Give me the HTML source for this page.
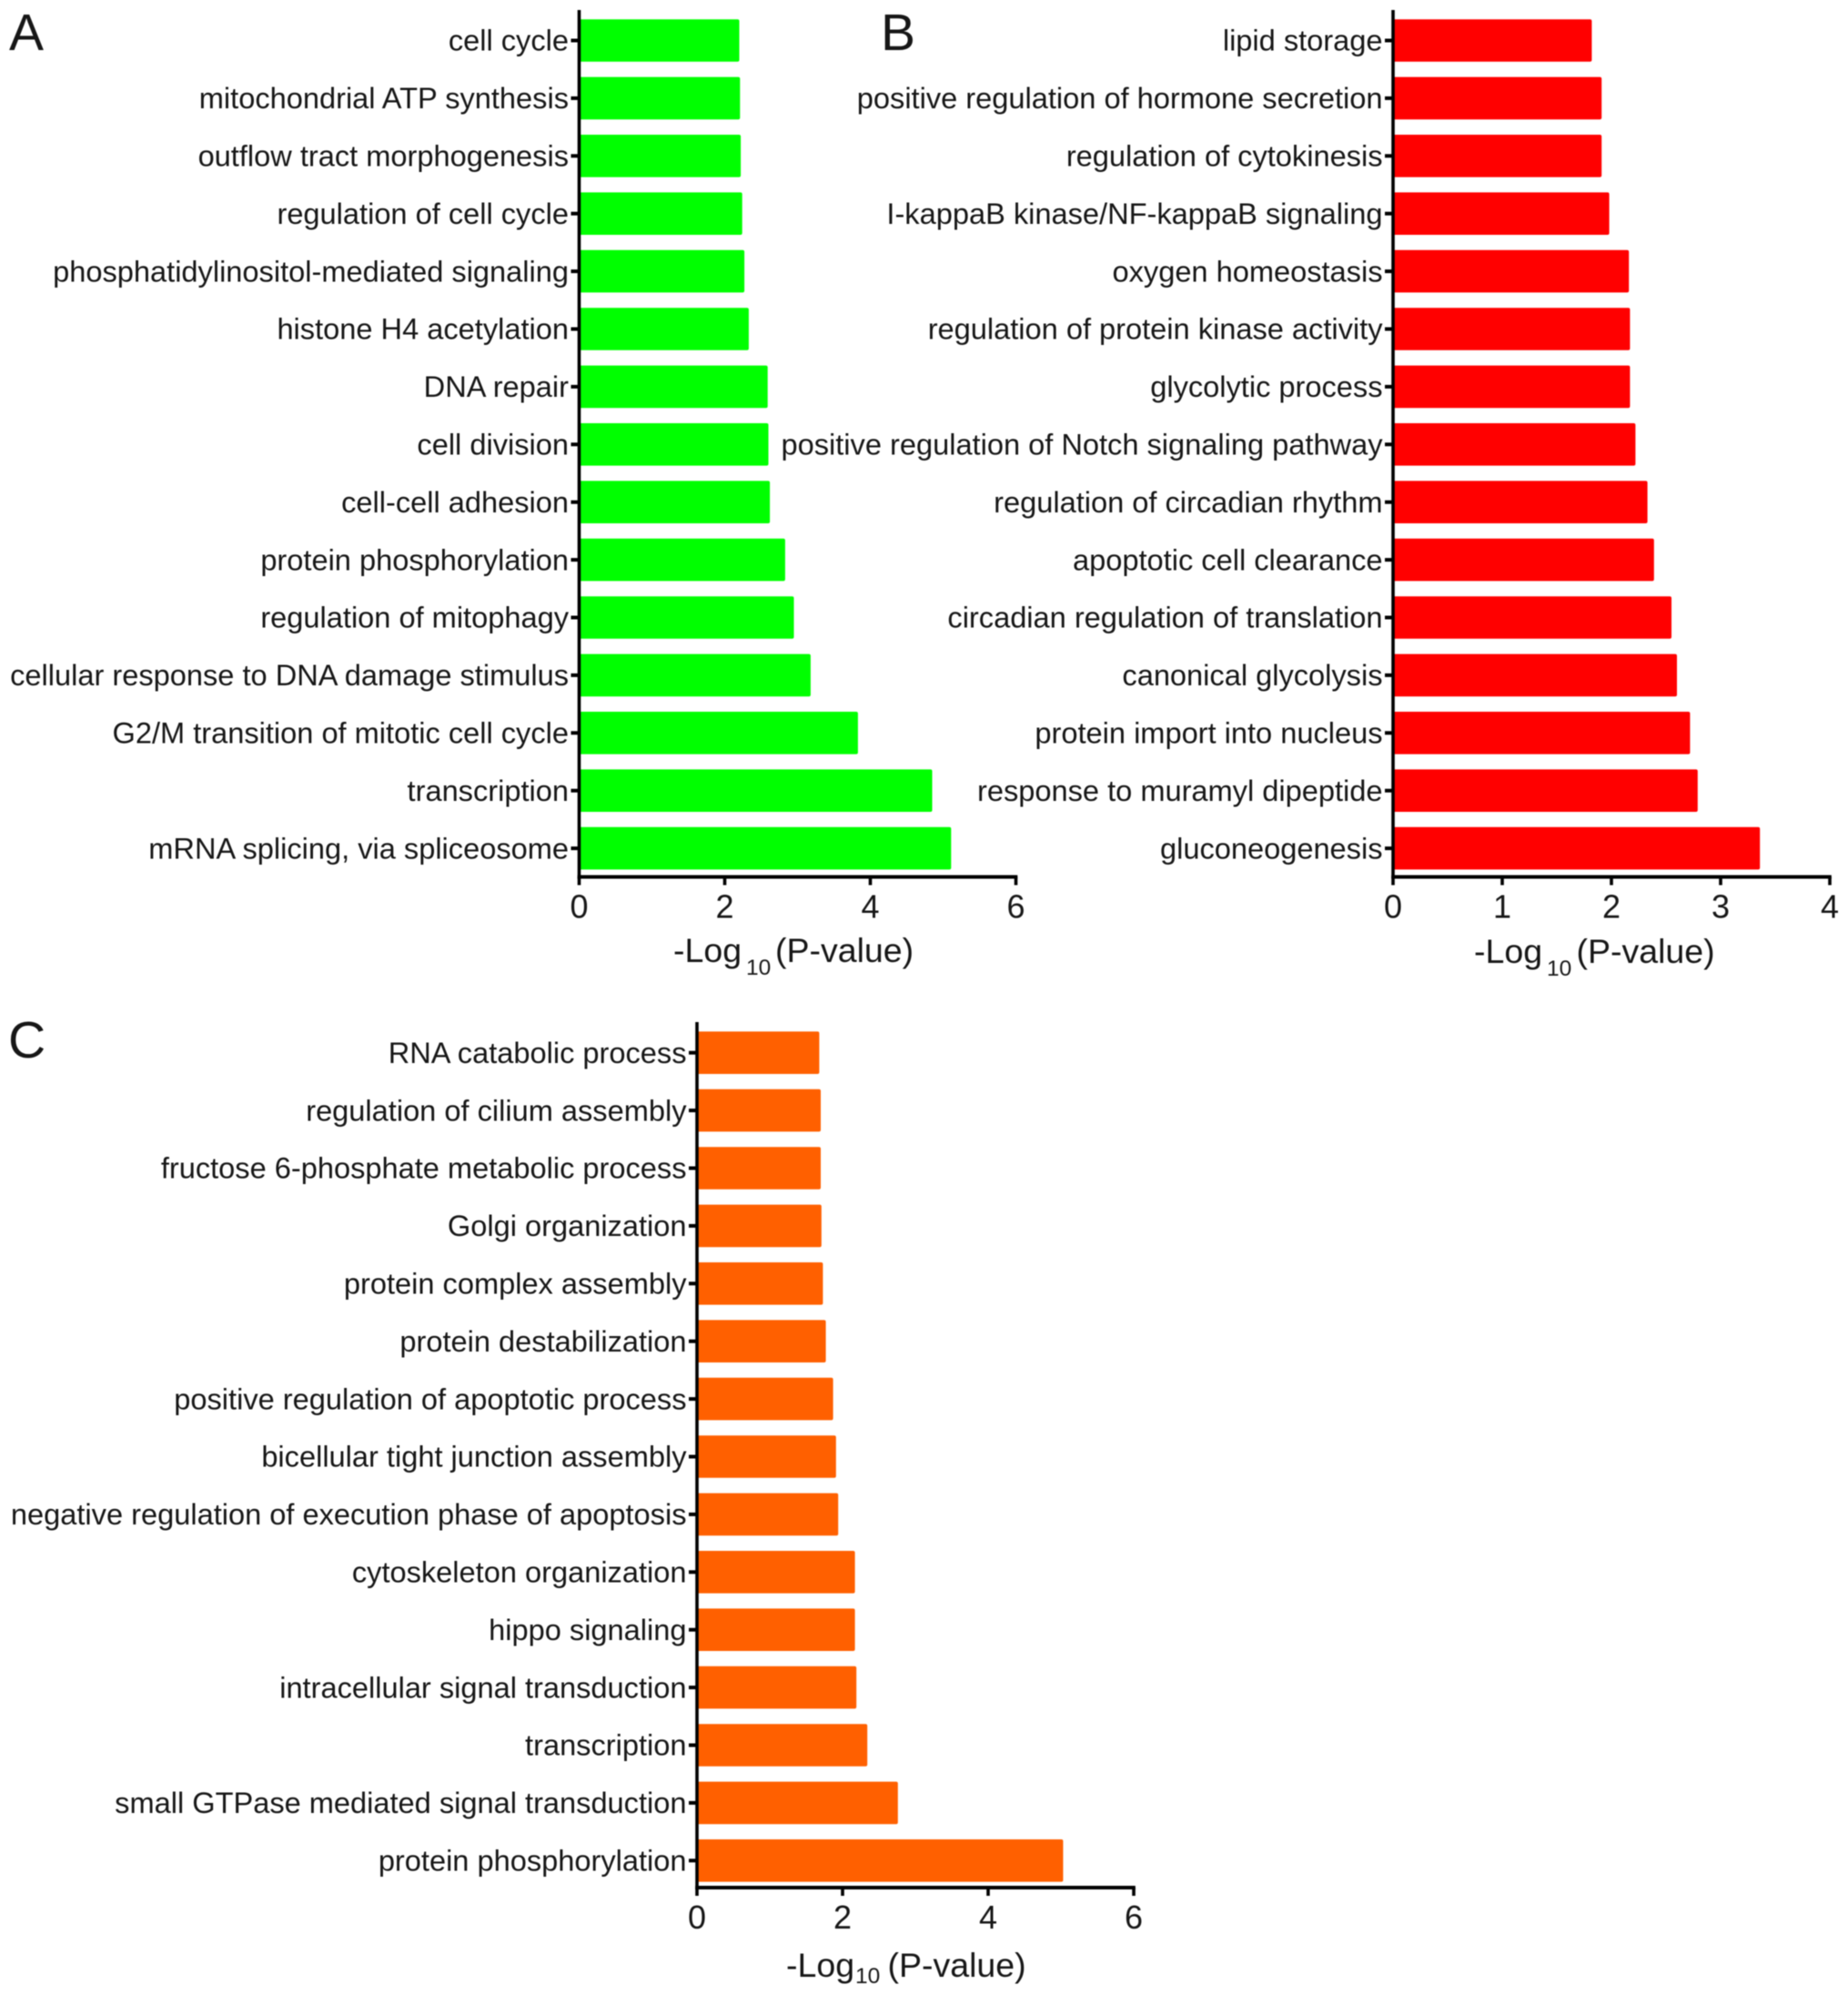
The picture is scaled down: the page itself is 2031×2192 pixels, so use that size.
<!DOCTYPE html>
<html lang="en">
<head>
<meta charset="utf-8">
<title>GO enrichment bar charts</title>
<style>
html,body{margin:0;padding:0;background:#fff;}
body{width:2031px;height:2192px;overflow:hidden;}
svg{display:block;filter:blur(0.55px);}
text{font-family:"Liberation Sans",sans-serif;fill:#161616;}
</style>
</head>
<body>
<svg id="figure" width="2031" height="2192" viewBox="0 0 2031 2192" xmlns="http://www.w3.org/2000/svg">
<rect x="0" y="0" width="2031" height="2192" fill="#ffffff"/>
<text x="10" y="55" font-size="57">A</text>
<text x="968" y="55" font-size="57">B</text>
<text x="9" y="1162" font-size="57">C</text>
</svg>
<script>
const panelACategories = ["cell cycle","mitochondrial ATP synthesis","outflow tract morphogenesis","regulation of cell cycle","phosphatidylinositol-mediated signaling","histone H4 acetylation","DNA repair","cell division","cell-cell adhesion","protein phosphorylation","regulation of mitophagy","cellular response to DNA damage stimulus","G2/M transition of mitotic cell cycle","transcription","mRNA splicing, via spliceosome"];
const panelAValues = [2.20,2.21,2.22,2.24,2.27,2.33,2.59,2.60,2.62,2.83,2.95,3.18,3.83,4.85,5.11];
const panelATicks = [0,2,4,6];

const panelBCategories = ["lipid storage","positive regulation of hormone secretion","regulation of cytokinesis","I-kappaB kinase/NF-kappaB signaling","oxygen homeostasis","regulation of protein kinase activity","glycolytic process","positive regulation of Notch signaling pathway","regulation of circadian rhythm","apoptotic cell clearance","circadian regulation of translation","canonical glycolysis","protein import into nucleus","response to muramyl dipeptide","gluconeogenesis"];
const panelBValues = [1.82,1.91,1.91,1.98,2.16,2.17,2.17,2.22,2.33,2.39,2.55,2.60,2.72,2.79,3.36];
const panelBTicks = [0,1,2,3,4];

const panelCCategories = ["RNA catabolic process","regulation of cilium assembly","fructose 6-phosphate metabolic process","Golgi organization","protein complex assembly","protein destabilization","positive regulation of apoptotic process","bicellular tight junction assembly","negative regulation of execution phase of apoptosis","cytoskeleton organization","hippo signaling","intracellular signal transduction","transcription","small GTPase mediated signal transduction","protein phosphorylation"];
const panelCValues = [1.68,1.70,1.70,1.71,1.73,1.77,1.87,1.91,1.94,2.17,2.17,2.19,2.34,2.76,5.03];
const panelCTicks = [0,2,4,6];

const NS = "http://www.w3.org/2000/svg";
const figure = document.getElementById("figure");

function make(parent, tag, attrs, content) {
  const el = document.createElementNS(NS, tag);
  for (const k in attrs) el.setAttribute(k, attrs[k]);
  if (content !== undefined) el.textContent = content;
  parent.appendChild(el);
  return el;
}

function drawPanel(id, categories, values, ticks, opt) {
  const maxTick = ticks[ticks.length - 1];
  const xScale = v => opt.x0 + (v / maxTick) * opt.plotWidth;
  const yScale = i => opt.firstY + i * opt.step;
  const barH = 46.6;

  const g = make(figure, "g", {});
  
  

  categories.forEach((label, i) => {
    const cy = yScale(i);
    const bar = make(g, "rect", {
      x: opt.x0,
      y: cy - barH / 2,
      width: xScale(values[i]) - opt.x0,
      height: barH,
      rx: 2,
      ry: 2,
      fill: opt.color
    });
    
    

    const tick = make(g, "line", {
      x1: opt.x0 - 9, x2: opt.x0, y1: cy, y2: cy,
      stroke: "#000", "stroke-width": 4
    });
    
    

    const txt = make(g, "text", {
      x: opt.x0 - 11.5,
      y: cy + 11.2,
      "text-anchor": "end",
      "font-size": 32.6
    }, label);
    
    
  });

  const yAxis = make(g, "line", {
    x1: opt.x0, x2: opt.x0, y1: opt.axisTop, y2: opt.axisY + 2,
    stroke: "#000", "stroke-width": 3.6
  });
  
  

  const xAxis = make(g, "line", {
    x1: opt.x0 - 1.8, x2: xScale(maxTick) + 1.8, y1: opt.axisY, y2: opt.axisY,
    stroke: "#000", "stroke-width": 4
  });
  
  

  ticks.forEach(t => {
    const tx = xScale(t);
    const tm = make(g, "line", {
      x1: tx, x2: tx, y1: opt.axisY, y2: opt.axisY + 9,
      stroke: "#000", "stroke-width": 3.6
    });
    
    

    const tl = make(g, "text", {
      x: tx,
      y: opt.axisY + 45,
      "text-anchor": "middle",
      "font-size": 36
    }, String(t));
    
    
  });

  const title = make(g, "g", {});
  
  
  make(title, "text", { x: opt.titleX, y: opt.titleY, "font-size": 37.5 }, "-Log");
  make(title, "text", { x: opt.subX, y: opt.subY, "font-size": 24.5 }, "10");
  make(title, "text", { x: opt.restX, y: opt.titleY, "font-size": 37.5 }, "(P-value)");
}

drawPanel("panel-a-chart", panelACategories, panelAValues, panelATicks, {
  color: "#00ff00", x0: 636.5, plotWidth: 480, firstY: 44.5, step: 63.4,
  axisTop: 11, axisY: 963.5, titleX: 740, titleY: 1057, subX: 820, subY: 1071, restX: 852
});
drawPanel("panel-b-chart", panelBCategories, panelBValues, panelBTicks, {
  color: "#ff0000", x0: 1531, plotWidth: 480, firstY: 44.5, step: 63.4,
  axisTop: 11, axisY: 963.5, titleX: 1620, titleY: 1058, subX: 1700, subY: 1072, restX: 1732.5
});
drawPanel("panel-c-chart", panelCCategories, panelCValues, panelCTicks, {
  color: "#ff6000", x0: 766, plotWidth: 480, firstY: 1156.7, step: 63.4,
  axisTop: 1123, axisY: 2074, titleX: 864, titleY: 2172, subX: 940, subY: 2179, restX: 975.5
});
</script>
</body>
</html>
